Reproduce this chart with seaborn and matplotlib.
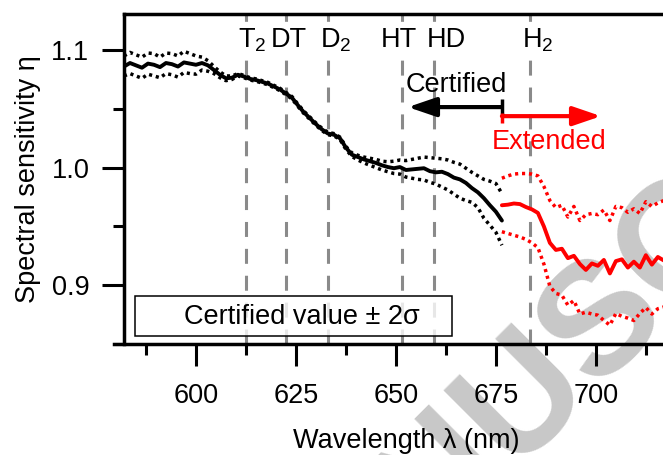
import numpy as np
import pandas as pd
import matplotlib
matplotlib.use("Agg")
import matplotlib.pyplot as plt
import seaborn as sns
from matplotlib.patches import Rectangle
from matplotlib.ticker import MultipleLocator

# certified range (black), sampled every 1.5 nm
black_wl = [582, 583.5, 585, 586.5, 588, 589.5, 591, 592.5, 594, 595.5,
            597, 598.5, 600, 601.5, 603, 604.5, 606, 607.5, 609, 610.5,
            612, 613.5, 615, 616.5, 618, 619.5, 621, 622.5, 624, 625.5,
            627, 628.5, 630, 631.5, 633, 634.5, 636, 637.5, 639, 640.5,
            642, 643.5, 645, 646.5, 648, 649.5, 651, 652.5, 654, 655.5,
            657, 658.5, 660, 661.5, 663, 664.5, 666, 667.5, 669, 670.5,
            672, 673.5, 675, 676.5]
black_eta = [1.086, 1.089, 1.087, 1.085, 1.0885, 1.0875, 1.0855, 1.089, 1.088, 1.086,
             1.0895, 1.0885, 1.0875, 1.089, 1.087, 1.083, 1.079, 1.076, 1.0765, 1.079,
             1.0775, 1.0755, 1.0745, 1.073, 1.0715, 1.069, 1.0665, 1.063, 1.0595, 1.053,
             1.047, 1.042, 1.037, 1.0325, 1.029, 1.028, 1.025, 1.017, 1.011, 1.009,
             1.007, 1.0055, 1.004, 1.002, 1.0005, 0.9995, 1.0005, 0.998, 0.9985, 0.999,
             0.9995, 0.997, 0.996, 0.9965, 0.9945, 0.9915, 0.990, 0.987, 0.9826, 0.979,
             0.974, 0.968, 0.9625, 0.955]
black_hi = [1.095, 1.098, 1.096, 1.094, 1.0975, 1.097, 1.094, 1.0975, 1.097, 1.095,
            1.099, 1.097, 1.095, 1.094, 1.091, 1.086, 1.0815, 1.078, 1.078, 1.080,
            1.0785, 1.0765, 1.0755, 1.074, 1.0725, 1.070, 1.0675, 1.064, 1.0605, 1.054,
            1.048, 1.043, 1.038, 1.0335, 1.030, 1.029, 1.026, 1.018, 1.0125, 1.0105,
            1.009, 1.008, 1.007, 1.0055, 1.005, 1.0055, 1.0065, 1.006, 1.007, 1.008,
            1.009, 1.0085, 1.008, 1.0075, 1.0065, 1.0045, 1.003, 0.9995, 0.996, 0.993,
            0.990, 0.9885, 0.9865, 0.978]
black_lo = [1.078, 1.080, 1.078, 1.076, 1.0795, 1.078, 1.0765, 1.080, 1.079, 1.077,
            1.081, 1.080, 1.0795, 1.083, 1.082, 1.080, 1.0765, 1.074, 1.075, 1.078,
            1.0765, 1.0745, 1.0735, 1.072, 1.0705, 1.068, 1.0655, 1.062, 1.0585, 1.052,
            1.046, 1.041, 1.036, 1.0315, 1.028, 1.027, 1.024, 1.0155, 1.0095, 1.0065,
            1.004, 1.002, 1.000, 0.998, 0.9965, 0.995, 0.9945, 0.992, 0.991, 0.990,
            0.9895, 0.9875, 0.986, 0.9835, 0.981, 0.9775, 0.974, 0.972, 0.9705, 0.966,
            0.957, 0.951, 0.945, 0.934]

# extended range (red)
red_wl = [676.5, 678, 679.5, 681, 682.5, 684, 685.5, 687, 688.5, 690,
          691.5, 693, 694.5, 696, 697.5, 699, 700.5, 702, 703.5, 705,
          706.5, 708, 709.5, 711, 712.5, 714, 715.5, 717, 718.5]
red_eta = [0.968, 0.9685, 0.9695, 0.969, 0.9665, 0.9645, 0.9615, 0.950, 0.936, 0.930,
           0.931, 0.923, 0.925, 0.918, 0.913, 0.9185, 0.9165, 0.9215, 0.910, 0.9205,
           0.922, 0.915, 0.920, 0.915, 0.9255, 0.9175, 0.924, 0.921, 0.925]
red_hi = [0.991, 0.993, 0.9945, 0.995, 0.995, 0.9945, 0.993, 0.984, 0.972, 0.966,
          0.968, 0.958, 0.967, 0.955, 0.960, 0.961, 0.960, 0.964, 0.955, 0.967,
          0.966, 0.962, 0.965, 0.961, 0.971, 0.967, 0.970, 0.972, 0.969]
red_lo = [0.9455, 0.944, 0.9425, 0.941, 0.939, 0.936, 0.932, 0.918, 0.899, 0.893,
          0.8915, 0.883, 0.887, 0.8755, 0.877, 0.8755, 0.8745, 0.870, 0.866, 0.876,
          0.8735, 0.872, 0.870, 0.876, 0.881, 0.8755, 0.880, 0.8815, 0.879]

# isotopologue lines
line_names = ["T$_2$", "DT", "D$_2$", "HT", "HD", "H$_2$"]
line_wl = [612.4, 622.6, 632.9, 651.4, 659.6, 683.6]
label_x = [610.4, 618.7, 631.0, 646.2, 657.8, 681.6]

cert_edge = 676.5
cert_end = 653.0
ext_end = 701.3

FS = 19.5

sns.set_style("ticks")
plt.rcParams["font.family"] = ["Liberation Sans", "DejaVu Sans"]
plt.rcParams["mathtext.fontset"] = "custom"
plt.rcParams["mathtext.rm"] = "Liberation Sans"
plt.rcParams["mathtext.it"] = "Liberation Sans:italic"
for key in ["text.color", "axes.labelcolor", "xtick.color", "ytick.color", "axes.edgecolor"]:
    plt.rcParams[key] = "black"

black = pd.DataFrame({"wl": black_wl, "eta": black_eta, "hi": black_hi, "lo": black_lo})
red = pd.DataFrame({"wl": red_wl, "eta": red_eta, "hi": red_hi, "lo": red_lo})

fig = plt.figure(figsize=(6.63, 4.55), dpi=100)
ax = fig.add_axes([0.187, 0.244, 0.852, 0.725])
ax.set_facecolor("none")

dots = (0, (0.9, 1.1))
for df, col in [(black, "black"), (red, "#ff0000")]:
    sns.lineplot(data=df, x="wl", y="eta", ax=ax, color=col, lw=2.8,
                 estimator=None, sort=False, zorder=3)
    sns.lineplot(data=df, x="wl", y="hi", ax=ax, color=col, lw=2.5,
                 linestyle=dots, estimator=None, sort=False, zorder=3)
    sns.lineplot(data=df, x="wl", y="lo", ax=ax, color=col, lw=2.5,
                 linestyle=dots, estimator=None, sort=False, zorder=3)

for wl in line_wl:
    ax.axvline(wl, color="#8a8a8a", lw=2.2, ls=(0, (4.9, 3.9)), zorder=1)
for name, x in zip(line_names, label_x):
    ax.text(x, 1.1026, name, fontsize=FS, ha="left", va="baseline", zorder=4,
            bbox=dict(facecolor="white", edgecolor="none", pad=1))

# certified / extended arrows
ax.annotate("", xy=(cert_end, 1.0515), xytext=(cert_edge, 1.0515),
            arrowprops=dict(arrowstyle="-|>,head_length=1.7,head_width=0.58",
                            mutation_scale=10, lw=3, color="black",
                            shrinkA=0, shrinkB=0), zorder=5)
ax.annotate("", xy=(ext_end, 1.0438), xytext=(cert_edge, 1.0438),
            arrowprops=dict(arrowstyle="-|>,head_length=1.7,head_width=0.58",
                            mutation_scale=10, lw=3, color="#ff0000",
                            shrinkA=0, shrinkB=0), zorder=5)
ax.vlines(cert_edge, 1.046, 1.0583, color="black", lw=2.5, zorder=5)
ax.vlines(cert_edge, 1.038, 1.0464, color="#ff0000", lw=2.5, zorder=5)
ax.text(665.0, 1.0643, "Certified", fontsize=FS, ha="center", va="baseline", zorder=5)
ax.text(688.3, 1.0157, "Extended", fontsize=FS, ha="center", va="baseline",
        color="#ff0000", zorder=5)

# legend-like box
ax.add_patch(Rectangle((0.0195, 0.024), 0.561, 0.121, transform=ax.transAxes,
                       facecolor=(1, 1, 1, 0.8), edgecolor="black", lw=1.1, zorder=6))
ax.text(0.315, 0.083, "Certified value ± 2σ", transform=ax.transAxes,
        fontsize=FS, ha="center", va="center", zorder=7)

ax.set_xlim(582, 723.25)
ax.set_ylim(0.85, 1.1306)
ax.xaxis.set_major_locator(MultipleLocator(25))
ax.xaxis.set_minor_locator(MultipleLocator(12.5))
ax.yaxis.set_major_locator(MultipleLocator(0.1))
ax.yaxis.set_minor_locator(MultipleLocator(0.05))
ax.yaxis.set_major_formatter(matplotlib.ticker.FormatStrFormatter("%.1f"))
ax.tick_params(which="major", direction="out", length=16, width=2.2, labelsize=FS)
ax.tick_params(which="minor", direction="out", length=8, width=2.2)
ax.tick_params(axis="x", which="major", pad=12)
ax.tick_params(axis="y", which="major", pad=9)
for side in ["left", "bottom", "top", "right"]:
    ax.spines[side].set_linewidth(2.5)
ax.spines["bottom"].set_bounds(579.5, 730)

ax.set_xlabel("Wavelength λ (nm)", fontsize=FS, labelpad=14)
ax.set_ylabel("Spectral sensitivity η", fontsize=FS, labelpad=7)

# faint diagonal watermark
fig.text(0.385, -0.590, "MANUSCRIPT", fontsize=115, fontweight="bold",
         color="#c8c8c8", rotation=45, rotation_mode="anchor",
         ha="left", va="baseline", zorder=-1)

fig.savefig("out.png", dpi=100)
